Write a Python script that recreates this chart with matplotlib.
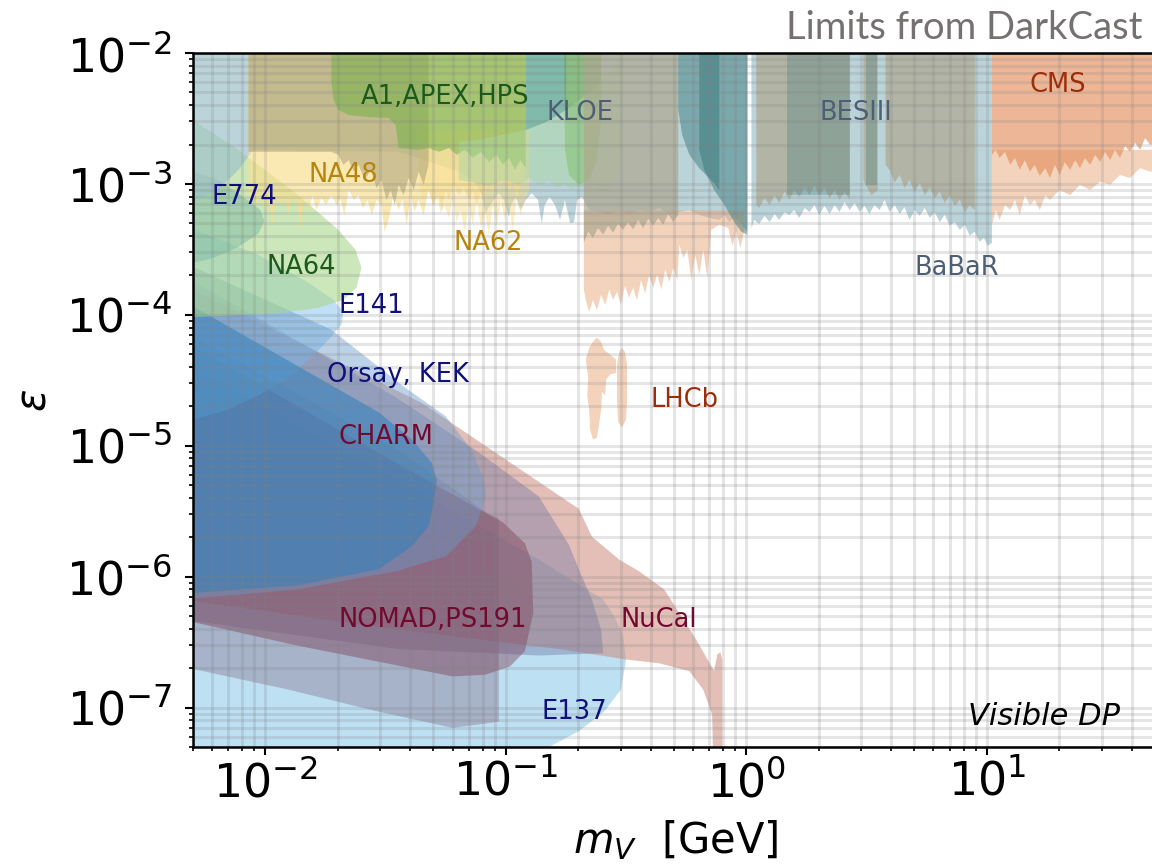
import matplotlib
matplotlib.use("Agg")
import matplotlib.pyplot as plt
from matplotlib.ticker import NullFormatter

# ---- exclusion regions: dark photon mass m_V [GeV] vs coupling epsilon ----

# beam dumps
E137_M = [4.5e-3, 0.0358, 0.137, 0.254, 0.282, 0.307, 0.316, 0.301, 0.256, 0.201, 0.151, 0.0935, 4.5e-3]
E137_EPS = [4.4e-5, 5.5e-6, 1.35e-6, 6.7e-7, 5.0e-7, 3.6e-7, 2.32e-7, 1.37e-7, 9.3e-8, 6.6e-8, 5.0e-8, 3.3e-8, 2.0e-8]

NUCAL_M = [4.5e-3, 0.0446, 0.201, 0.228, 0.296, 0.358, 0.455, 0.619, 0.735, 0.757, 0.780, 0.794,
           0.794, 0.729, 0.721, 0.662, 0.579, 0.434, 0.322, 0.166, 0.0358, 4.5e-3]
NUCAL_EPS = [1.7e-4, 2.13e-5, 3.3e-6, 2.02e-6, 1.35e-6, 1.1e-6, 8.0e-7, 3.3e-7, 1.9e-7, 2.55e-7, 2.65e-7, 2.32e-7,
             3.3e-8, 3.3e-8, 8.8e-8, 1.37e-7, 1.9e-7, 2.18e-7, 2.32e-7, 2.8e-7, 3.94e-7, 6.7e-7]

CHARM_M = [4.5e-3, 0.0348, 0.0772, 0.137, 0.183, 0.201, 0.228, 0.249, 0.254, 0.137, 0.0358, 4.5e-3]
CHARM_EPS = [2.03e-4, 2.35e-5, 8.9e-6, 4.1e-6, 1.75e-6, 1.14e-6, 6.7e-7, 3.94e-7, 2.6e-7, 2.5e-7, 2.8e-7, 4.7e-7]

PS191_M = [4.5e-3, 0.0358, 0.085, 0.0935, 0.0935, 0.0601, 0.0296, 0.0125, 4.5e-3]
PS191_EPS = [7.7e-5, 9.3e-6, 3.0e-6, 2.8e-6, 7.8e-8, 7.0e-8, 9.3e-8, 1.37e-7, 2.06e-7]

NOMAD_M = [4.5e-3, 0.0358, 0.0972, 0.120, 0.128, 0.130, 0.120, 0.104, 0.0818, 0.0601, 0.0133, 4.5e-3]
NOMAD_EPS = [6.45e-5, 7.2e-6, 2.6e-6, 1.8e-6, 1.3e-6, 5.3e-7, 2.7e-7, 2.06e-7, 1.78e-7, 1.73e-7, 3.0e-7, 4.7e-7]

E141_M = [4.5e-3, 9.35e-3, 0.0151, 0.0192, 0.0211, 0.0207, 0.0183, 0.0158, 0.0125, 9.35e-3, 7.01e-3, 4.5e-3]
E141_EPS = [4.87e-4, 2.87e-4, 1.76e-4, 1.30e-4, 1.05e-4, 8.4e-5, 6.45e-5, 4.9e-5, 3.3e-5, 2.43e-5, 1.89e-5, 1.5e-5]

KEK_M = [4.5e-3, 0.0188, 0.0369, 0.0562, 0.0721, 0.081, 0.0826, 0.075, 0.0562, 0.0348, 0.0137, 4.5e-3]
KEK_EPS = [2.54e-4, 7.7e-5, 2.9e-5, 1.68e-5, 9.3e-6, 5.5e-6, 4.1e-6, 2.43e-6, 1.43e-6, 1.1e-6, 8.0e-7, 6.7e-7]

ORSAY_M = [4.5e-3, 0.0296, 0.0406, 0.0492, 0.0516, 0.0501, 0.0477, 0.0406, 0.0296, 0.0137, 4.5e-3]
ORSAY_EPS = [1.30e-4, 1.8e-5, 1.12e-5, 7.4e-6, 5.5e-6, 3.6e-6, 2.43e-6, 1.7e-6, 1.14e-6, 8.6e-7, 7.4e-7]

E774_M = [4.5e-3, 6.37e-3, 8.1e-3, 9.53e-3, 9.9e-3, 9.35e-3, 7.72e-3, 6.08e-3, 4.5e-3]
E774_EPS = [1.32e-3, 1.07e-3, 7.95e-4, 6.32e-4, 5.22e-4, 4.17e-4, 3.3e-4, 2.72e-4, 2.37e-4]

NA64_M = [4.5e-3, 7.72e-3, 0.0137, 0.0201, 0.0237, 0.0251, 0.0239, 0.0211, 0.0166, 0.0113, 4.5e-3]
NA64_EPS = [3.48e-3, 1.82e-3, 8.2e-4, 4.46e-4, 3.14e-4, 2.29e-4, 1.61e-4, 1.30e-4, 1.13e-4, 1.03e-4, 9.5e-5]

# colliders / fixed-target resonance searches
BABAR_LO_M = [4.5e-3, 1.01, 1.01, 0.982, 0.935, 0.891, 0.850, 0.810, 0.772, 0.702,
              0.637, 0.579, 0.526, 0.478, 0.434, 0.394, 0.358, 0.325, 0.296, 0.269,
              0.244, 0.222, 0.211, 0.207, 0.198, 0.192, 0.185, 0.176, 0.168, 0.160,
              0.152, 0.145, 0.141, 0.136, 0.128, 0.121, 0.115, 0.110, 0.105, 0.103,
              0.0981, 0.0935, 0.0891, 0.085, 0.0826, 0.0794, 0.0757, 0.0701, 0.0637, 0.0526,
              0.0358, 8.91e-3, 7.72e-3, 6.37e-3, 4.5e-3]
BABAR_LO_EPS = [1.2e-2, 1.2e-2, 4.31e-4, 4.6e-4, 5.1e-4, 5.5e-4, 5.1e-4, 5.8e-4, 5.3e-4, 5.5e-4,
                5.8e-4, 6.32e-4, 6.1e-4, 5.8e-4, 6.55e-4, 6.1e-4, 6.32e-4, 5.8e-4, 6.32e-4, 5.8e-4,
                6.1e-4, 6.32e-4, 7.55e-4, 7.95e-4, 7.55e-4, 5.1e-4, 5.0e-4, 7.55e-4, 5.3e-4, 6.9e-4,
                7.95e-4, 6.9e-4, 5.0e-4, 7.55e-4, 8.5e-4, 7.55e-4, 6.32e-4, 7.95e-4, 6.9e-4, 5.6e-4,
                7.55e-4, 8.5e-4, 7.55e-4, 6.66e-4, 6.0e-4, 8.2e-4, 9.85e-4, 1.11e-3, 1.24e-3, 1.40e-3,
                1.76e-3, 1.82e-3, 1.28e-3, 9.0e-4, 6.9e-4]

BABAR_HI_M = [1.05, 10.5, 10.5, 10.1, 9.72, 9.35, 8.91, 8.49, 8.1, 7.72, 7.36, 7.01, 6.68, 6.37,
              6.07, 5.79, 5.52, 5.26, 5.01, 4.77, 4.55, 4.34, 4.14, 3.94, 3.76, 3.58, 3.41, 3.25,
              3.10, 2.96, 2.82, 2.69, 2.56, 2.44, 2.33, 2.22, 2.11, 2.01, 1.92, 1.83, 1.75, 1.66,
              1.58, 1.51, 1.44, 1.37, 1.31, 1.25, 1.19, 1.13, 1.08, 1.05]
BABAR_HI_EPS = [1.2e-2, 1.2e-2, 3.55e-4, 3.37e-4, 3.87e-4, 3.61e-4, 4.31e-4, 4.03e-4, 4.87e-4, 4.46e-4,
                5.1e-4, 4.8e-4, 5.8e-4, 5.1e-4, 6.1e-4, 5.5e-4, 6.55e-4, 5.7e-4, 6.32e-4, 5.3e-4,
                6.66e-4, 5.9e-4, 6.9e-4, 6.1e-4, 7.55e-4, 6.32e-4, 6.9e-4, 5.9e-4, 6.8e-4, 6.1e-4,
                7.16e-4, 6.32e-4, 7.3e-4, 6.1e-4, 6.9e-4, 5.9e-4, 6.8e-4, 5.8e-4, 6.9e-4, 6.1e-4,
                6.55e-4, 5.5e-4, 6.32e-4, 5.8e-4, 6.1e-4, 5.3e-4, 5.9e-4, 5.1e-4, 5.7e-4, 4.95e-4,
                5.3e-4, 4.6e-4]

LHCB_LO_M = [0.211, 0.982, 0.982, 0.944, 0.908, 0.875, 0.841, 0.772, 0.714, 0.688,
             0.662, 0.637, 0.613, 0.590, 0.568, 0.547, 0.526, 0.516, 0.497, 0.478,
             0.460, 0.443, 0.426, 0.410, 0.394, 0.379, 0.365, 0.351, 0.338, 0.325,
             0.313, 0.301, 0.290, 0.279, 0.269, 0.259, 0.249, 0.239, 0.230, 0.222,
             0.215, 0.211]
LHCB_LO_EPS = [6.3e-4, 6.3e-4, 4.46e-4, 3.25e-4, 4.31e-4, 3.37e-4, 4.6e-4, 4.87e-4, 4.46e-4, 1.91e-4,
               3.14e-4, 2.03e-4, 2.87e-4, 1.85e-4, 3.14e-4, 2.72e-4, 3.43e-4, 1.85e-4, 2.29e-4, 1.79e-4,
               2.22e-4, 1.56e-4, 2.03e-4, 1.61e-4, 2.0e-4, 1.45e-4, 1.85e-4, 1.30e-4, 1.61e-4, 1.35e-4,
               1.67e-4, 1.19e-4, 1.5e-4, 1.30e-4, 1.56e-4, 1.19e-4, 1.42e-4, 1.09e-4, 1.30e-4, 1.05e-4,
               1.30e-4, 1.56e-4]

LHCB_HI_M = [10.5, 60, 60, 47.8, 43.4, 39.4, 35.8, 32.6, 29.6, 26.9, 24.4, 22.2, 20.1, 18.3,
             17.5, 16.6, 15.8, 15.1, 14.4, 13.7, 13.1, 12.5, 11.9, 11.3, 10.9, 10.5]
LHCB_HI_EPS = [1.82e-3, 1.82e-3, 1.28e-3, 1.24e-3, 1.32e-3, 1.11e-3, 1.17e-3, 9.85e-4, 1.04e-3, 9.0e-4,
               9.85e-4, 8.2e-4, 9.0e-4, 7.55e-4, 8.2e-4, 6.32e-4, 7.55e-4, 6.9e-4, 8.2e-4, 5.8e-4,
               7.55e-4, 6.32e-4, 6.9e-4, 5.3e-4, 6.32e-4, 4.87e-4]

LHCB_D1_M = [0.239, 0.249, 0.256, 0.274, 0.287, 0.287, 0.271, 0.261, 0.259, 0.251, 0.249,
             0.244, 0.239, 0.230, 0.224, 0.222, 0.218, 0.220, 0.215, 0.222, 0.230]
LHCB_D1_EPS = [6.7e-5, 6.2e-5, 5.4e-5, 4.9e-5, 4.55e-5, 3.6e-5, 3.5e-5, 3.2e-5, 2.43e-5, 2.58e-5, 1.89e-5,
               1.45e-5, 1.15e-5, 1.12e-5, 1.33e-5, 1.89e-5, 2.43e-5, 3.3e-5, 4.55e-5, 5.6e-5, 6.2e-5]
LHCB_D2_M = [0.304, 0.313, 0.319, 0.319, 0.316, 0.304, 0.293, 0.290, 0.290, 0.296]
LHCB_D2_EPS = [5.6e-5, 5.2e-5, 4.17e-5, 2.25e-5, 1.58e-5, 1.38e-5, 1.52e-5, 2.25e-5, 4.17e-5, 5.2e-5]

NA48_M = [8.5e-3, 0.121, 0.121, 0.115, 0.111, 0.107, 0.103, 0.0981, 0.0935, 0.0908, 0.0875, 0.085,
          0.081, 0.0787, 0.0757, 0.0729, 0.0701, 0.0668, 0.0637, 0.0607, 0.0579, 0.0562, 0.0541,
          0.0526, 0.0501, 0.0477, 0.0455, 0.0434, 0.0418, 0.0402, 0.0387, 0.0372, 0.0358, 0.0341,
          0.0325, 0.0313, 0.0304, 0.029, 0.0277, 0.0266, 0.0254, 0.0244, 0.0233, 0.0222, 0.0213,
          0.0205, 0.0198, 0.0188, 0.0179, 0.0171, 0.0163, 0.0157, 0.0151, 0.0145, 0.0140, 0.0135,
          0.0130, 0.0125, 0.0120, 0.0115, 0.0111, 0.0107, 0.0103, 9.9e-3, 9.53e-3, 9.17e-3, 8.5e-3]
NA48_EPS = [1.2e-2, 1.2e-2, 1.17e-3, 9.85e-4, 7.55e-4, 1.04e-3, 9.0e-4, 1.11e-3, 9.33e-4, 1.07e-3, 8.2e-4, 9.85e-4,
            7.55e-4, 9.0e-4, 6.9e-4, 8.7e-4, 7.55e-4, 9.33e-4, 8.2e-4, 9.85e-4, 7.55e-4, 9.0e-4, 6.32e-4,
            8.2e-4, 6.9e-4, 9.0e-4, 5.8e-4, 7.55e-4, 6.1e-4, 8.2e-4, 4.87e-4, 7.55e-4, 6.32e-4, 8.2e-4,
            5.3e-4, 4.31e-4, 6.9e-4, 7.55e-4, 5.8e-4, 7.55e-4, 6.55e-4, 8.2e-4, 7.55e-4, 9.0e-4, 5.8e-4,
            7.8e-4, 6.9e-4, 8.2e-4, 6.9e-4, 7.8e-4, 6.32e-4, 8.1e-4, 6.1e-4, 7.55e-4, 4.6e-4, 6.9e-4,
            7.8e-4, 5.8e-4, 7.55e-4, 6.9e-4, 7.8e-4, 4.8e-4, 7.55e-4, 6.32e-4, 8.2e-4, 6.9e-4, 8.2e-4]

NA62_M = [0.0434, 0.125, 0.125, 0.120, 0.115, 0.111, 0.107, 0.103, 0.0991, 0.0953, 0.0917, 0.0883,
          0.085, 0.0818, 0.0787, 0.0757, 0.0729, 0.0701, 0.0675, 0.0649, 0.0625, 0.0601, 0.0579,
          0.0557, 0.0536, 0.0516, 0.0497, 0.0477, 0.0455, 0.0434]
NA62_EPS = [2.58e-3, 2.58e-3, 9.0e-4, 7.55e-4, 5.8e-4, 8.2e-4, 4.46e-4, 6.9e-4, 5.3e-4, 7.55e-4, 4.87e-4, 6.9e-4,
            4.1e-4, 6.1e-4, 4.6e-4, 7.55e-4, 4.87e-4, 6.9e-4, 4.31e-4, 6.32e-4, 5.1e-4, 7.55e-4, 5.5e-4,
            6.9e-4, 6.0e-4, 8.2e-4, 6.9e-4, 9.0e-4, 7.55e-4, 9.85e-4]

KLOE_LO_M = [8.5e-3, 0.0477, 0.0477, 0.0455, 0.0434, 0.0414, 0.0394, 0.0376, 0.0358, 0.0345, 0.0332,
             0.0319, 0.0304, 0.029, 0.0274, 0.0259, 0.0244, 0.0233, 0.0222, 0.0211, 0.0201, 0.0188, 8.5e-3]
KLOE_LO_EPS = [1.2e-2, 1.2e-2, 1.40e-3, 9.85e-4, 1.24e-3, 9.0e-4, 1.11e-3, 8.2e-4, 9.85e-4, 6.9e-4, 9.0e-4,
               7.55e-4, 1.07e-3, 9.33e-4, 1.28e-3, 1.07e-3, 1.40e-3, 1.24e-3, 1.52e-3, 1.40e-3, 1.67e-3,
               1.76e-3, 1.76e-3]

A1_M = [0.0188, 0.121, 0.121, 0.115, 0.109, 0.103, 0.0972, 0.0917, 0.085, 0.0787, 0.0729, 0.0675,
        0.0625, 0.0579, 0.0526, 0.0477, 0.0434, 0.0358, 0.0348, 0.0325, 0.0269, 0.0222, 0.0201,
        0.0192, 0.0188]
A1_EPS = [1.2e-2, 1.2e-2, 1.32e-3, 1.52e-3, 1.28e-3, 1.58e-3, 1.40e-3, 1.67e-3, 1.47e-3, 1.76e-3,
          1.58e-3, 1.82e-3, 1.67e-3, 1.88e-3, 1.76e-3, 1.88e-3, 1.82e-3, 1.88e-3, 2.82e-3, 3.19e-3,
          3.24e-3, 3.36e-3, 3.67e-3, 4.4e-3, 6.2e-3]
APEX_M = [0.175, 0.249, 0.249, 0.239, 0.222, 0.201, 0.183, 0.176]
APEX_EPS = [1.2e-2, 1.2e-2, 3.08e-3, 1.52e-3, 1.07e-3, 9.85e-4, 1.17e-3, 1.82e-3]

KLOE_M = [0.0637, 0.0772, 0.121, 0.178, 0.237, 0.282, 0.310, 0.307, 0.301, 0.290, 0.269, 0.244,
          0.226, 0.211, 0.198, 0.187, 0.175, 0.163, 0.151, 0.137, 0.125, 0.113, 0.0981, 0.085,
          0.0701, 0.0637]
KLOE_EPS = [2.09e-3, 2.17e-3, 2.58e-3, 3.67e-3, 5.5e-3, 8.1e-3, 1.2e-2, 4.4e-3, 1.82e-3, 1.11e-3, 9.0e-4,
            8.7e-4, 9.85e-4, 9.33e-4, 9.7e-4, 9.0e-4, 1.02e-3, 9.33e-4, 1.07e-3, 9.7e-4, 1.11e-3,
            9.85e-4, 1.07e-3, 9.7e-4, 1.04e-3, 1.07e-3]
KLOE_TOP_M = [0.121, 0.178, 0.178, 0.147, 0.121]
KLOE_TOP_EPS = [1.2e-2, 1.2e-2, 3.67e-3, 2.97e-3, 2.58e-3]

KLOE_MID_M = [0.211, 0.521, 0.521, 0.497, 0.473, 0.451, 0.430, 0.410, 0.391, 0.372, 0.355, 0.338,
              0.322, 0.307, 0.293, 0.279, 0.266, 0.254, 0.242, 0.230, 0.220, 0.211]
KLOE_MID_EPS = [1.2e-2, 1.2e-2, 5.8e-4, 5.1e-4, 5.9e-4, 4.87e-4, 5.5e-4, 4.8e-4, 5.4e-4, 4.6e-4, 5.3e-4,
                4.5e-4, 5.1e-4, 4.46e-4, 4.95e-4, 4.24e-4, 4.8e-4, 4.1e-4, 4.6e-4, 3.87e-4, 4.31e-4, 3.55e-4]

KLOE_RHO_M = [0.521, 0.772, 0.772, 0.714, 0.637, 0.579, 0.541, 0.521]
KLOE_RHO_EPS = [1.2e-2, 1.2e-2, 9.0e-4, 1.07e-3, 1.32e-3, 1.67e-3, 2.37e-3, 3.67e-3]
KLOE_OMEGA_M = [0.637, 1.009, 1.009, 0.953, 0.891, 0.810, 0.735, 0.668, 0.637]
KLOE_OMEGA_EPS = [1.2e-2, 1.2e-2, 4.1e-4, 4.31e-4, 5.1e-4, 6.9e-4, 9.0e-4, 1.28e-3, 1.82e-3]

BES_A_M = [1.10, 2.69, 2.69, 2.56, 2.44, 2.33, 2.22, 2.11, 2.01, 1.92, 1.83, 1.75, 1.66, 1.58,
           1.51, 1.44, 1.37, 1.31, 1.25, 1.19, 1.13, 1.10]
BES_A_EPS = [1.2e-2, 1.2e-2, 7.55e-4, 8.7e-4, 7.55e-4, 9.0e-4, 7.8e-4, 9.33e-4, 8.1e-4, 9.7e-4, 8.2e-4,
             9.33e-4, 7.95e-4, 9.0e-4, 7.55e-4, 8.7e-4, 7.16e-4, 8.2e-4, 6.9e-4, 7.8e-4, 6.55e-4, 6.9e-4]
BES_B_M = [3.07, 3.52, 3.52, 3.32, 3.13, 3.07]
BES_B_EPS = [1.2e-2, 1.2e-2, 9.0e-4, 8.2e-4, 9.85e-4, 1.07e-3]
BES_C_M = [3.79, 8.91, 8.91, 8.49, 8.1, 7.72, 7.36, 7.01, 6.68, 6.37, 6.07, 5.79, 5.52, 5.26,
           5.01, 4.77, 4.55, 4.34, 4.14, 3.94, 3.79]
BES_C_EPS = [1.2e-2, 1.2e-2, 6.32e-4, 6.9e-4, 6.1e-4, 7.55e-4, 6.8e-4, 8.2e-4, 7.16e-4, 8.7e-4, 7.8e-4,
             9.33e-4, 8.2e-4, 1.02e-3, 8.7e-4, 1.07e-3, 9.33e-4, 1.17e-3, 1.02e-3, 1.28e-3, 1.40e-3]
BES_D_M = [1.48, 2.69, 2.69, 1.48]
BES_D_EPS = [1.2e-2, 1.2e-2, 8.2e-4, 8.2e-4]
BES_E_M = [3.13, 3.48, 3.48, 3.13]
BES_E_EPS = [1.2e-2, 1.2e-2, 9.85e-4, 9.85e-4]

CMS_M = [10.5, 60, 60, 47.8, 45.5, 43.4, 41.4, 39.4, 37.6, 35.8, 34.1, 32.6, 31.0, 29.6, 28.2,
         26.9, 25.6, 24.4, 23.3, 22.2, 21.1, 20.1, 19.2, 18.3, 17.5, 16.6, 15.8, 15.1, 14.4,
         13.7, 13.1, 12.5, 11.9, 11.3, 10.9, 10.5]
CMS_EPS = [1.2e-2, 1.2e-2, 2.17e-3, 1.99e-3, 2.24e-3, 1.82e-3, 2.06e-3, 1.76e-3, 1.95e-3, 1.58e-3,
           1.82e-3, 1.52e-3, 1.76e-3, 1.47e-3, 1.67e-3, 1.40e-3, 1.58e-3, 1.32e-3, 1.52e-3, 1.28e-3,
           1.47e-3, 1.17e-3, 1.40e-3, 1.11e-3, 1.32e-3, 1.15e-3, 1.40e-3, 1.24e-3, 1.52e-3, 1.28e-3,
           1.58e-3, 1.40e-3, 1.76e-3, 1.58e-3, 1.82e-3, 1.67e-3]

# (name, mass, epsilon, colour, alpha), drawn in this order
REGIONS = [
    ("E137", E137_M, E137_EPS, "#a1d3ee", 0.70),
    ("NuCal", NUCAL_M, NUCAL_EPS, "#ce8c7e", 0.55),
    ("CHARM", CHARM_M, CHARM_EPS, "#6e73a0", 0.40),
    ("PS191", PS191_M, PS191_EPS, "#8c7d96", 0.45),
    ("NOMAD", NOMAD_M, NOMAD_EPS, "#7d3c55", 0.42),
    ("E141", E141_M, E141_EPS, "#8cc8f0", 0.55),
    ("KEK", KEK_M, KEK_EPS, "#6a9ccc", 0.45),
    ("Orsay", ORSAY_M, ORSAY_EPS, "#2f80bd", 0.55),
    ("E774", E774_M, E774_EPS, "#3c91cd", 0.50),
    ("NA64", NA64_M, NA64_EPS, "#aad78c", 0.60),
    ("BaBaR", BABAR_LO_M, BABAR_LO_EPS, "#9fc2cb", 0.70),
    ("BaBaR", BABAR_HI_M, BABAR_HI_EPS, "#9fc2cb", 0.70),
    ("LHCb", LHCB_LO_M, LHCB_LO_EPS, "#ebaf87", 0.55),
    ("LHCb", LHCB_HI_M, LHCB_HI_EPS, "#ebaf87", 0.55),
    ("LHCb", LHCB_D1_M, LHCB_D1_EPS, "#ebaf87", 0.55),
    ("LHCb", LHCB_D2_M, LHCB_D2_EPS, "#ebaf87", 0.55),
    ("NA48", NA48_M, NA48_EPS, "#fade8c", 0.65),
    ("NA62", NA62_M, NA62_EPS, "#fade8c", 0.50),
    ("KLOE", KLOE_LO_M, KLOE_LO_EPS, "#aaa078", 0.55),
    ("A1", A1_M, A1_EPS, "#74b444", 0.55),
    ("APEX", APEX_M, APEX_EPS, "#6cb048", 0.60),
    ("KLOE", KLOE_M, KLOE_EPS, "#aad7a5", 0.50),
    ("KLOE", KLOE_TOP_M, KLOE_TOP_EPS, "#3c9a70", 0.45),
    ("KLOE", KLOE_MID_M, KLOE_MID_EPS, "#afa891", 0.70),
    ("KLOE", KLOE_RHO_M, KLOE_RHO_EPS, "#2e7474", 0.45),
    ("KLOE", KLOE_OMEGA_M, KLOE_OMEGA_EPS, "#2e7474", 0.45),
    ("BESIII", BES_A_M, BES_A_EPS, "#afa891", 0.70),
    ("BESIII", BES_B_M, BES_B_EPS, "#afa891", 0.70),
    ("BESIII", BES_C_M, BES_C_EPS, "#afa891", 0.70),
    ("BESIII", BES_D_M, BES_D_EPS, "#3c7878", 0.30),
    ("BESIII", BES_E_M, BES_E_EPS, "#3c7878", 0.30),
    ("CMS", CMS_M, CMS_EPS, "#e28c58", 0.62),
]

# label text, mass, epsilon, colour
NAVY, DKGREEN, GOLD, SLATE, MAROON, RUST = "#10107a", "#1c5a1c", "#b5850f", "#4d5e75", "#700a2e", "#9c2d0c"
LABELS = [
    ("A1,APEX,HPS", 0.0249, 4.6e-3, DKGREEN),
    ("KLOE", 0.148, 3.48e-3, SLATE),
    ("BESIII", 2.01, 3.48e-3, SLATE),
    ("CMS", 15.1, 5.7e-3, RUST),
    ("NA48", 0.0151, 1.17e-3, GOLD),
    ("E774", 5.96e-3, 7.95e-4, NAVY),
    ("NA62", 0.0607, 3.55e-4, GOLD),
    ("NA64", 0.0101, 2.33e-4, DKGREEN),
    ("BaBaR", 5.01, 2.29e-4, SLATE),
    ("E141", 0.0201, 1.16e-4, NAVY),
    ("Orsay, KEK", 0.018, 3.5e-5, NAVY),
    ("LHCb", 0.40, 2.25e-5, RUST),
    ("CHARM", 0.0201, 1.17e-5, MAROON),
    ("NOMAD,PS191", 0.0201, 4.7e-7, MAROON),
    ("NuCal", 0.301, 4.7e-7, MAROON),
    ("E137", 0.141, 9.3e-8, NAVY),
]

fig = plt.figure(figsize=(11.52, 8.65), dpi=100)
ax = fig.add_axes([193 / 1152, 118 / 865, 965 / 1152, 694 / 865])

for name, m, eps, col, a in REGIONS:
    ax.fill(m, eps, color=col, alpha=a, lw=0)

for text, m, eps, col in LABELS:
    ax.text(m, eps, text, color=col, fontsize=18.5, ha="left", va="center", zorder=5)
ax.text(35.8, 8.5e-8, "Visible DP", style="italic", fontsize=22, ha="right", va="center", zorder=5)

ax.set_xscale("log")
ax.set_yscale("log")
ax.set_xlim(5e-3, 51.5)
ax.set_ylim(5e-8, 1e-2)
ax.xaxis.set_minor_formatter(NullFormatter())
ax.yaxis.set_minor_formatter(NullFormatter())

ax.grid(True, which="both", color="gray", alpha=0.2, lw=2.2)
ax.tick_params(which="major", length=6, width=1.5, labelsize=33, direction="out")
ax.tick_params(which="minor", length=3, width=1.2, direction="out")
ax.tick_params(axis="y", which="major", pad=9)
for s in ax.spines.values():
    s.set_linewidth(1.8)

ax.set_xlabel(r"$m_V$  [GeV]", fontsize=30, labelpad=9)
ax.set_ylabel(r"$\varepsilon$", fontsize=30, labelpad=8)

fig.text(0.9915, 0.968, "Limits from DarkCast", ha="right", va="center",
         fontsize=27.5, color="#767171", family="Lato")

fig.savefig("out.png", dpi=100)
